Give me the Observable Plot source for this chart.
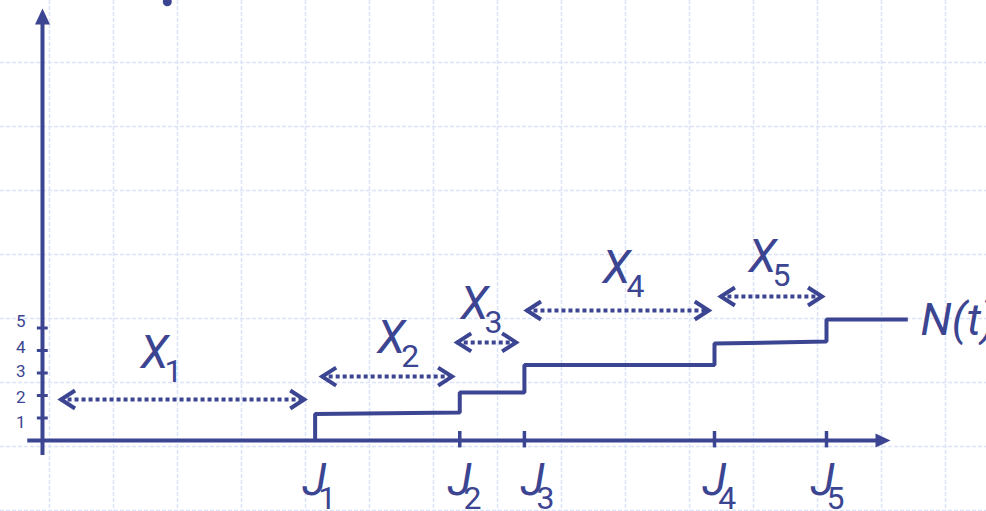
<!DOCTYPE html>
<html><head><meta charset="utf-8">
<script src="https://cdn.jsdelivr.net/npm/d3@7"></script>
<script src="https://cdn.jsdelivr.net/npm/@observablehq/plot@0.6"></script>
<style>
html,body{margin:0;padding:0;background:#fff;overflow:hidden}
#chart{width:986px;height:511px;overflow:hidden}
</style></head><body><div id="chart"></div>
<script>
// ---- data (time units t, count units n) ----
const jumpSubs = ["1", "2", "3", "4", "5"];
const jumpTimes = [4.26, 6.52, 7.53, 10.5, 12.25];
const levelStart = [1.18, 2.13, 3.36, 4.31, 5.38];
const levelEnd = [1.24, 2.13, 3.36, 4.40, 5.38];
const pathEnd = 13.52;

const gapSubs = ["1", "2", "3", "4", "5"];
const gapFrom = [0.29, 4.37, 6.48, 7.57, 10.60];
const gapTo = [4.09, 6.40, 7.40, 10.41, 12.18];
const gapLevel = [1.82, 2.84, 4.36, 5.78, 6.40];
const gapLabelT = [1.53, 5.23, 6.53, 8.75, 11.03];
const gapLabelN = [3.24, 3.91, 5.42, 6.98, 7.47];

const jLabelT = [4.06, 6.33, 7.47, 10.31, 12.0];
const jLabelN = -2.44;

const yTicks = [1, 2, 3, 4, 5];
const yTickLabels = ["1", "2", "3", "4", "5"];
const yLabelPos = [0.8, 1.91, 3.07, 4.13, 5.29];

const seriesLabel = "N(t)";
const seriesLabelT = 13.72, seriesLabelN = 4.67;

const xAxisRange = [-0.23, 13.25];
const yAxisRange = [19.2, -0.67];
const topMark = [{t: 1.95, n: 19.5}];

// ---- styles ----
const ink = "#3c4591";
const gridColor = "#dbe4fa";

// background grid (slide paper)
const gridX = d3.range(0.11, 14.75, 1);
const gridY = d3.range(-3.11, 19.6, 64 / 22.5);

// build tables
const stepPts = [{t: jumpTimes[0], n: 0}];
jumpTimes.forEach((j, i) => {
  stepPts.push({t: j, n: levelStart[i]});
  stepPts.push({t: i + 1 < jumpTimes.length ? jumpTimes[i + 1] : pathEnd, n: levelEnd[i]});
});
const gaps = gapFrom.map((f, i) => ({from: f, to: gapTo[i], n: gapLevel[i], lt: gapLabelT[i], ln: gapLabelN[i], sub: gapSubs[i]}));
const jumps = jumpTimes.map((j, i) => ({t: j, lt: jLabelT[i], ln: jLabelN, sub: jumpSubs[i]}));
const ticks = yTicks.map((v, i) => ({v, lab: yTickLabels[i], pos: yLabelPos[i]}));

// custom symbols
const chevR = {draw(c) { c.moveTo(-14, -9); c.lineTo(0, 0); c.lineTo(-14, 9); }};
const chevL = {draw(c) { c.moveTo(14, -9); c.lineTo(0, 0); c.lineTo(14, 9); }};
const triUp = {draw(c) { c.moveTo(0, 0); c.lineTo(7.5, 16); c.lineTo(-7.5, 16); c.closePath(); }};
const triRight = {draw(c) { c.moveTo(0, 0); c.lineTo(-15, -7); c.lineTo(-15, 7); c.closePath(); }};

const italic = {fontStyle: "italic", fontFamily: "Roboto, 'Open Sans', sans-serif"};

const chart = Plot.plot({
  width: 986, height: 511, margin: 0,
  x: {domain: [-0.656, 14.75], axis: null},
  y: {domain: [-3.156, 19.556], axis: null},
  style: {background: "#fff", fontFamily: "Roboto, sans-serif", color: ink},
  marks: [
    Plot.ruleX(gridX, {stroke: gridColor, strokeWidth: 1.5, strokeDasharray: "4,2"}),
    Plot.ruleY(gridY, {stroke: gridColor, strokeWidth: 1.5, strokeDasharray: "4,2"}),
    // axes
    Plot.ruleY([0], {x1: xAxisRange[0], x2: xAxisRange[1], insetRight: 12, stroke: ink, strokeWidth: 4}),
    Plot.ruleX([0], {y1: yAxisRange[0], y2: yAxisRange[1], insetTop: 12, stroke: ink, strokeWidth: 4}),
    Plot.dot([xAxisRange[1]], {x: d => d, y: () => 0, symbol: triRight, fill: ink, stroke: "none"}),
    Plot.dot([yAxisRange[0]], {x: () => 0, y: d => d, symbol: triUp, fill: ink, stroke: "none"}),
    // y ticks + labels
    Plot.ruleY(ticks, {y: "v", x1: -0.08, x2: 0.09, stroke: ink, strokeWidth: 3}),
    Plot.text(ticks, {x: -0.34, y: "pos", text: "lab", fontSize: 17, fill: ink, textAnchor: "middle"}),
    // x ticks at jumps (except first, covered by the step)
    Plot.ruleX(jumpTimes.slice(1), {y1: 0.4, y2: -0.33, stroke: ink, strokeWidth: 3.5}),
    // step path N(t)
    Plot.line(stepPts, {x: "t", y: "n", stroke: ink, strokeWidth: 4, strokeLinejoin: "miter", strokeLinecap: "butt", curve: "linear"}),
    Plot.text([seriesLabel], {x: seriesLabelT, y: seriesLabelN, text: d => d, textAnchor: "start", lineAnchor: "bottom", fontSize: 45, fill: ink, ...italic}),
    // interarrival arrows
    Plot.ruleY(gaps, {y: "n", x1: "from", x2: "to", stroke: ink, strokeWidth: 4, strokeDasharray: "4,3"}),
    Plot.dot(gaps, {x: "from", y: "n", symbol: chevL, fill: "none", stroke: ink, strokeWidth: 4}),
    Plot.dot(gaps, {x: "to", y: "n", symbol: chevR, fill: "none", stroke: ink, strokeWidth: 4}),
    Plot.text(gaps, {x: "lt", y: "ln", text: () => "X", textAnchor: "start", lineAnchor: "bottom", fontSize: 46, fill: ink, ...italic}),
    Plot.text(gaps, {x: "lt", y: "ln", text: "sub", dx: 24, dy: 14, textAnchor: "start", lineAnchor: "bottom", fontSize: 32, fill: ink}),
    // jump labels
    Plot.text(jumps, {x: "lt", y: "ln", text: () => "J", textAnchor: "start", lineAnchor: "bottom", fontSize: 45, fill: ink, ...italic}),
    Plot.text(jumps, {x: "lt", y: "ln", text: "sub", dx: 16, dy: 14, textAnchor: "start", lineAnchor: "bottom", fontSize: 32, fill: ink}),
    // cut-off mark at top edge
    Plot.dot(topMark, {x: "t", y: "n", r: 4.5, fill: ink, stroke: "none"})
  ]
});
document.getElementById("chart").appendChild(chart);
</script>
</body></html>
